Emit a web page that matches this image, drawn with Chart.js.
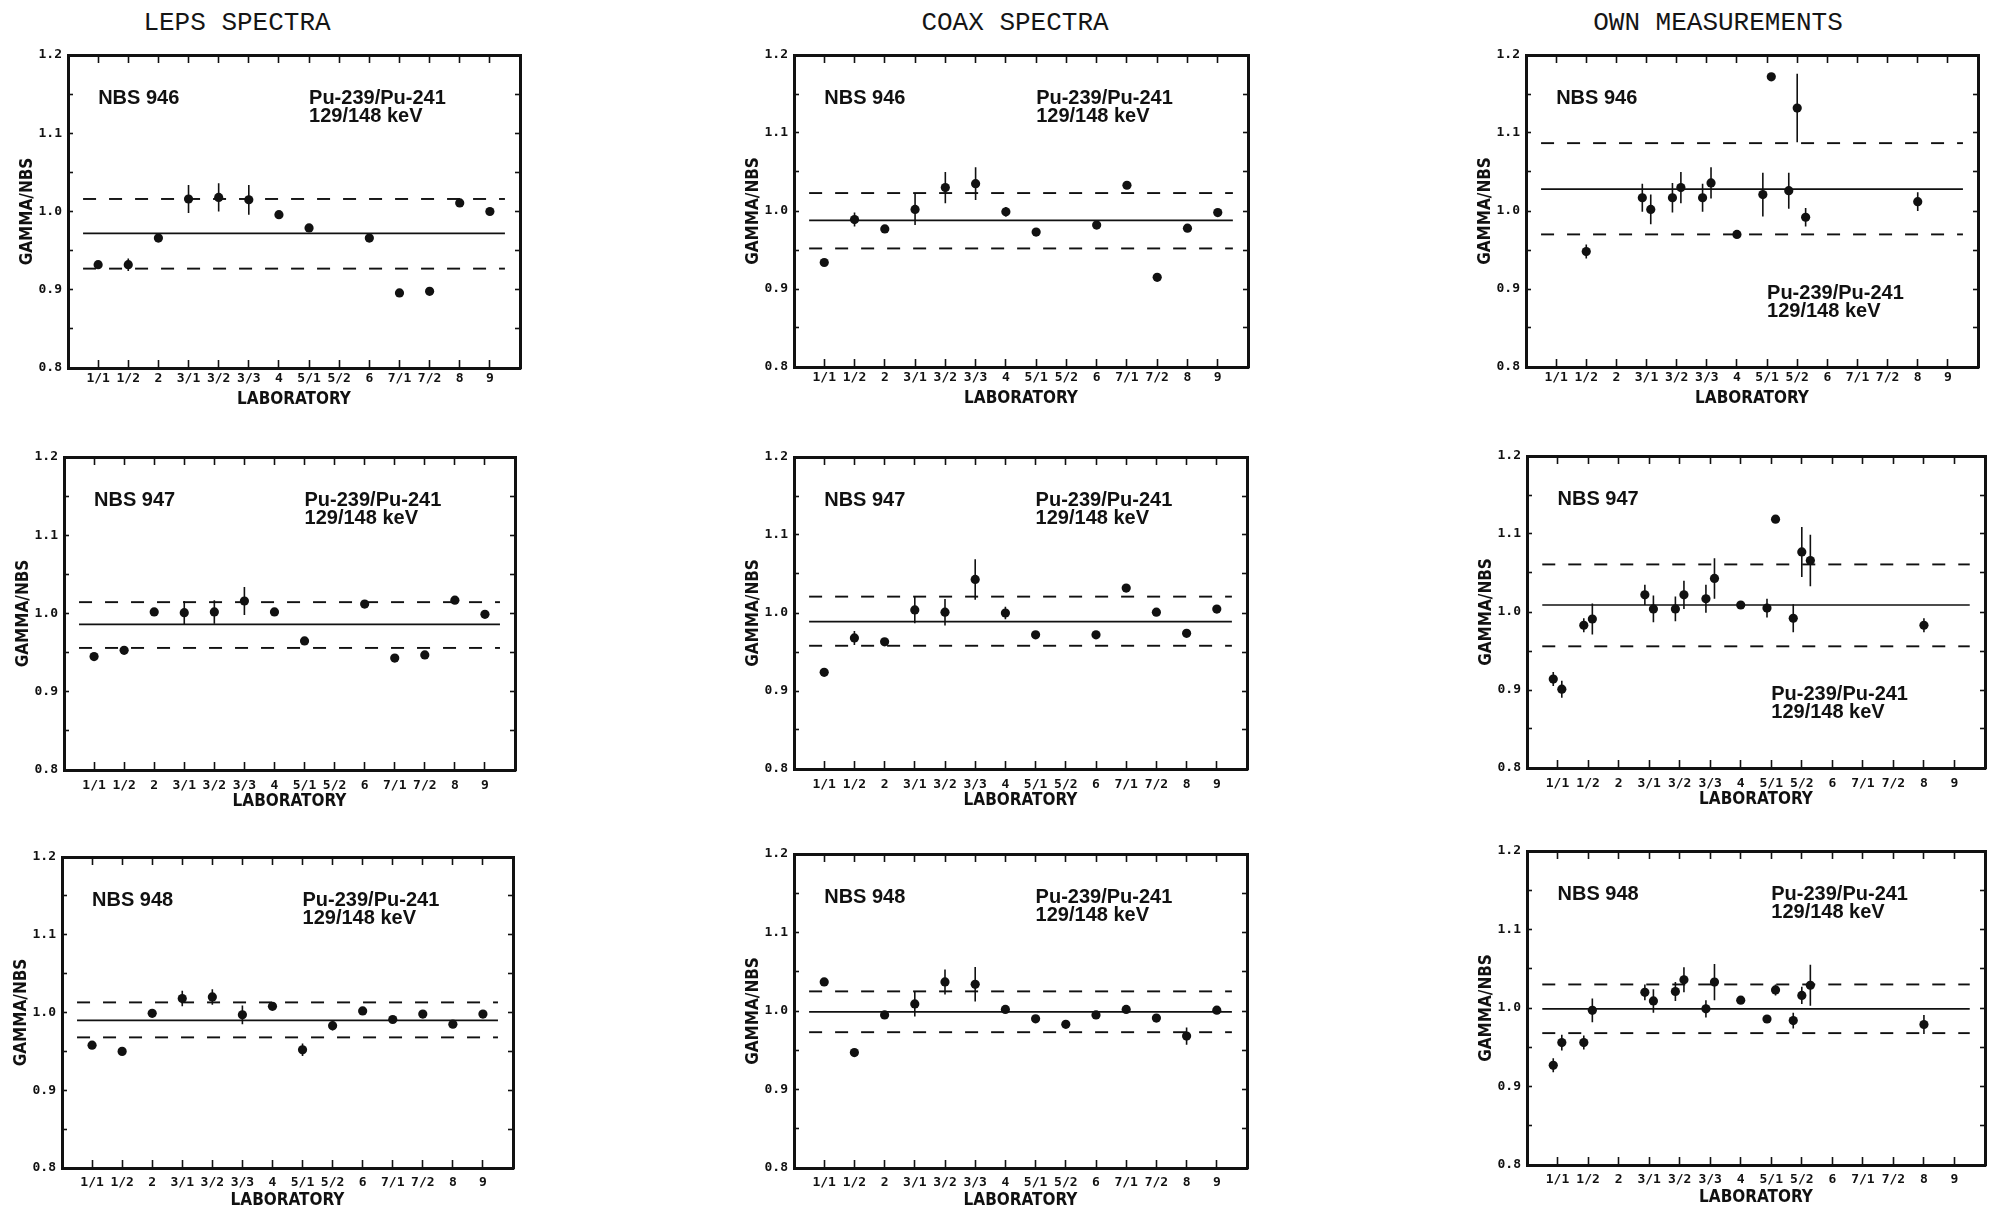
<!DOCTYPE html>
<html>
<head>
<meta charset="utf-8">
<script src="https://cdn.jsdelivr.net/npm/chart.js@4.4.1/dist/chart.umd.min.js"></script>
<style>
  html, body { margin:0; padding:0; background:#fff; }
  body { width:1998px; height:1211px; position:relative; overflow:hidden; }
  .hdr { position:absolute; top:8px; transform:translateX(-50%); white-space:nowrap;
         font-family:"Courier New","Liberation Mono",monospace; font-size:26px; color:#151515; }
  canvas { position:absolute; }
</style>
</head>
<body>
<script>
// ---------------- DATA ----------------
const columnTitles = ['LEPS SPECTRA', 'COAX SPECTRA', 'OWN MEASUREMENTS'];
const labLabels = ['1/1','1/2','2','3/1','3/2','3/3','4','5/1','5/2','6','7/1','7/2','8','9'];
const isotopeText = ['Pu-239/Pu-241', '129/148 keV'];
const nbsNames = ['NBS 946', 'NBS 947', 'NBS 948'];

// LEPS / COAX laboratories (5/2 missing for 946 and 947)
const labs13 = ['1/1','1/2','2','3/1','3/2','3/3','4','5/1','6','7/1','7/2','8','9'];
const labs14 = ['1/1','1/2','2','3/1','3/2','3/3','4','5/1','5/2','6','7/1','7/2','8','9'];

// lines: [mean, upper, lower]
const leps946Y     = [0.932, 0.932, 0.966, 1.016, 1.018, 1.015, 0.996, 0.979, 0.966, 0.896, 0.898, 1.011, 1.000];
const leps946Err   = [0, 0.008, 0, 0.018, 0.018, 0.019, 0, 0.004, 0, 0, 0, 0, 0];
const leps946Lines = [0.972, 1.016, 0.927];

const coax946Y     = [0.934, 0.989, 0.977, 1.002, 1.030, 1.035, 0.999, 0.973, 0.982, 1.033, 0.915, 0.978, 0.998];
const coax946Err   = [0, 0.009, 0, 0.020, 0.020, 0.021, 0.006, 0, 0, 0, 0, 0, 0];
const coax946Lines = [0.988, 1.023, 0.952];

const own946Labs  = ['1/2','3/1','3/1','3/2','3/2','3/3','3/3','4','5/1','5/1','5/2','5/2','5/2','8'];
const own946Y     = [0.948, 1.017, 1.002, 1.017, 1.030, 1.017, 1.036, 0.970, 1.021, 1.172, 1.026, 1.132, 0.992, 1.012];
const own946Err   = [0.009, 0.018, 0.019, 0.019, 0.020, 0.018, 0.020, 0.003, 0.028, 0, 0.023, 0.044, 0.012, 0.012];
const own946Lines = [1.028, 1.087, 0.970];

const leps947Y     = [0.945, 0.953, 1.002, 1.001, 1.002, 1.016, 1.002, 0.965, 1.012, 0.943, 0.947, 1.017, 0.999];
const leps947Err   = [0, 0.003, 0, 0.015, 0.015, 0.018, 0, 0.003, 0, 0, 0, 0, 0];
const leps947Lines = [0.986, 1.0145, 0.956];

const coax947Y     = [0.924, 0.968, 0.963, 1.004, 1.001, 1.043, 1.000, 0.972, 0.972, 1.032, 1.001, 0.974, 1.005];
const coax947Err   = [0, 0.009, 0, 0.017, 0.017, 0.026, 0.008, 0, 0, 0, 0, 0, 0];
const coax947Lines = [0.989, 1.021, 0.958];

const own947Labs  = ['1/1','1/1','1/2','1/2','3/1','3/1','3/2','3/2','3/3','3/3','4','5/1','5/1','5/2','5/2','5/2','8'];
const own947Y     = [0.914, 0.901, 0.983, 0.991, 1.022, 1.004, 1.004, 1.022, 1.017, 1.043, 1.009, 1.005, 1.119, 0.992, 1.077, 1.066, 0.983];
const own947Err   = [0.009, 0.011, 0.009, 0.020, 0.013, 0.017, 0.016, 0.018, 0.018, 0.026, 0, 0.012, 0, 0.018, 0.032, 0.033, 0.009];
const own947Lines = [1.009, 1.061, 0.956];

const leps948Y     = [0.958, 0.950, 0.999, 1.018, 1.020, 0.997, 1.008, 0.952, 0.983, 1.002, 0.991, 0.998, 0.985, 0.998];
const leps948Err   = [0, 0, 0, 0.010, 0.010, 0.012, 0, 0.008, 0.006, 0, 0, 0, 0, 0];
const leps948Lines = [0.990, 1.013, 0.968];

const coax948Y     = [1.037, 0.947, 0.995, 1.009, 1.037, 1.034, 1.002, 0.990, 0.983, 0.995, 1.002, 0.991, 0.968, 1.001];
const coax948Err   = [0, 0, 0, 0.016, 0.016, 0.022, 0, 0.004, 0, 0, 0, 0, 0.011, 0];
const coax948Lines = [0.999, 1.025, 0.973];

const own948Labs  = ['1/1','1/1','1/2','1/2','3/1','3/1','3/2','3/2','3/3','3/3','4','5/1','5/1','5/2','5/2','5/2','8'];
const own948Y     = [0.927, 0.956, 0.956, 0.997, 1.020, 1.009, 1.021, 1.036, 0.999, 1.033, 1.010, 0.986, 1.023, 0.984, 1.016, 1.029, 0.979];
const own948Err   = [0.009, 0.010, 0.009, 0.015, 0.010, 0.015, 0.012, 0.016, 0.011, 0.023, 0, 0, 0.007, 0.010, 0.011, 0.026, 0.012];
const own948Lines = [0.999, 1.030, 0.968];

// ---------------- LAYOUT ----------------
const headerX = [237, 1015, 1718];
// plot-area boxes (pixels) per panel: [left, top, right, bottom]
const boxes = [
  [68, 55, 520, 368], [794, 55, 1248, 367], [1526, 55, 1978, 367],
  [64, 457, 515, 770], [794, 457, 1247, 769], [1527, 456, 1985, 768],
  [62, 857, 513, 1168], [794, 854, 1247, 1168], [1527, 851, 1985, 1165]
];
const rowTickPad  = [11, 16, 15];
const rowTitlePad = [8, 8, 7];

const panels = [
  {labs: labs13, y: leps946Y, err: leps946Err, lines: leps946Lines, nbs: 0, low: false},
  {labs: labs13, y: coax946Y, err: coax946Err, lines: coax946Lines, nbs: 0, low: false},
  {labs: own946Labs, y: own946Y, err: own946Err, lines: own946Lines, nbs: 0, low: true},
  {labs: labs13, y: leps947Y, err: leps947Err, lines: leps947Lines, nbs: 1, low: false},
  {labs: labs13, y: coax947Y, err: coax947Err, lines: coax947Lines, nbs: 1, low: false},
  {labs: own947Labs, y: own947Y, err: own947Err, lines: own947Lines, nbs: 1, low: true},
  {labs: labs14, y: leps948Y, err: leps948Err, lines: leps948Lines, nbs: 2, low: false},
  {labs: labs14, y: coax948Y, err: coax948Err, lines: coax948Lines, nbs: 2, low: false},
  {labs: own948Labs, y: own948Y, err: own948Err, lines: own948Lines, nbs: 2, low: false}
];

const INK = '#111';
const PADL = 78, PADT = 20, PADR = 16, PADB = 50;

columnTitles.forEach((t, i) => {
  const d = document.createElement('div');
  d.className = 'hdr'; d.textContent = t; d.style.left = headerX[i] + 'px';
  document.body.appendChild(d);
});

// x position of each measurement: lab index, dodged when a lab has several measurements
function xPositions(labs) {
  const count = {}, seen = {};
  labs.forEach(l => count[l] = (count[l] || 0) + 1);
  return labs.map(l => {
    const k = seen[l] = (seen[l] === undefined ? 0 : seen[l] + 1);
    return labLabels.indexOf(l) + 1 + (k - (count[l] - 1) / 2) * 0.28;
  });
}

const textPlugin = {
  id: 'panelText',
  afterDatasetsDraw(chart, args, opts) {
    const {ctx} = chart;
    const xs = chart.scales.x, ys = chart.scales.y;
    ctx.save();
    ctx.fillStyle = INK;
    ctx.font = 'bold 20px "Liberation Sans", Arial, sans-serif';
    ctx.textBaseline = 'alphabetic';
    ctx.textAlign = 'left';
    const top = ys.getPixelForValue(1.155) + 14;
    ctx.fillText(nbsNames[opts.nbs], xs.getPixelForValue(1), top);
    const isoTop = ys.getPixelForValue(opts.low ? 0.905 : 1.155) + 14;
    const ix = xs.getPixelForValue(8);
    ctx.fillText(isotopeText[0], ix, isoTop);
    ctx.fillText(isotopeText[1], ix, isoTop + 18);
    ctx.restore();
  }
};

const tickFont = {family: '"DejaVu Sans Mono", monospace', weight: 'bold', size: 13};
const titleFont = {family: '"DejaVu Sans Condensed", "DejaVu Sans", sans-serif', weight: 'bold', size: 17};

panels.forEach((p, idx) => {
  const row = Math.floor(idx / 3);
  const [L, T, R, B] = boxes[idx];
  const w = R - L + PADL + PADR, h = B - T + PADT + PADB;
  const cv = document.createElement('canvas');
  cv.width = w; cv.height = h;
  cv.style.width = w + 'px'; cv.style.height = h + 'px';
  cv.style.left = (L - PADL) + 'px'; cv.style.top = (T - PADT) + 'px';
  document.body.appendChild(cv);

  const xs = xPositions(p.labs);
  const pts = xs.map((x, i) => ({x, y: p.y[i]}));
  const errPts = [];
  xs.forEach((x, i) => {
    if (p.err[i] > 0) {
      errPts.push({x, y: p.y[i] - p.err[i]}, {x, y: p.y[i] + p.err[i]}, {x, y: null});
    }
  });
  const hline = v => [{x: 0.5, y: v}, {x: 14.5, y: v}];

  const xTicks = s => { s.ticks = labLabels.map((_, i) => ({value: i + 1})); };
  const gridX = {drawOnChartArea: false, tickLength: -8, tickWidth: 1.6, tickColor: INK};
  const gridY = {drawOnChartArea: false, tickLength: -5, tickWidth: 1.6, tickColor: INK};
  const border = {display: true, width: 3, color: INK};

  new Chart(cv, {
    type: 'scatter',
    data: {
      datasets: [
        {data: pts, pointRadius: 4.6, pointHoverRadius: 4.6, backgroundColor: INK, borderWidth: 0, order: 0},
        {data: errPts, showLine: true, spanGaps: false, pointRadius: 0, borderColor: INK, borderWidth: 1.6, order: 1},
        {data: hline(p.lines[0]), showLine: true, pointRadius: 0, borderColor: INK, borderWidth: 1.7, order: 2},
        {data: hline(p.lines[1]), showLine: true, pointRadius: 0, borderColor: INK, borderWidth: 1.9, borderDash: [13, 13], order: 3},
        {data: hline(p.lines[2]), showLine: true, pointRadius: 0, borderColor: INK, borderWidth: 1.9, borderDash: [13, 13], order: 4}
      ]
    },
    options: {
      responsive: false,
      devicePixelRatio: 1,
      animation: false,
      events: [],
      layout: {padding: {left: 0, top: PADT, right: PADR, bottom: 0}},
      plugins: {legend: {display: false}, tooltip: {enabled: false}, panelText: {nbs: p.nbs, low: p.low}},
      scales: {
        x: {
          type: 'linear', position: 'bottom', min: 0, max: 15,
          afterBuildTicks: xTicks,
          afterFit: s => { s.height = PADB; },
          ticks: {autoSkip: false, maxRotation: 0, padding: rowTickPad[row], color: INK, font: tickFont,
                  callback: v => labLabels[v - 1] || ''},
          grid: gridX, border,
          title: {display: true, text: 'LABORATORY', color: INK, font: titleFont, padding: {top: 0, bottom: rowTitlePad[row]}}
        },
        x2: {
          type: 'linear', position: 'top', min: 0, max: 15,
          afterBuildTicks: xTicks,
          afterFit: s => { s.height = 0; },
          ticks: {display: false}, grid: gridX, border
        },
        y: {
          type: 'linear', position: 'left', min: 0.8, max: 1.2,
          afterFit: s => { s.width = PADL; },
          ticks: {stepSize: 0.05, padding: 11, color: INK, font: tickFont,
                  callback: v => Math.abs(v * 10 - Math.round(v * 10)) < 1e-6 ? v.toFixed(1) : ''},
          grid: gridY, border,
          title: {display: true, text: 'GAMMA/NBS', color: INK, font: titleFont, padding: {top: 27, bottom: 0}}
        },
        y2: {
          type: 'linear', position: 'right', min: 0.8, max: 1.2,
          afterFit: s => { s.width = 0; },
          ticks: {stepSize: 0.05, display: false}, grid: gridY, border
        }
      }
    },
    plugins: [textPlugin]
  });
});
</script>
</body>
</html>
